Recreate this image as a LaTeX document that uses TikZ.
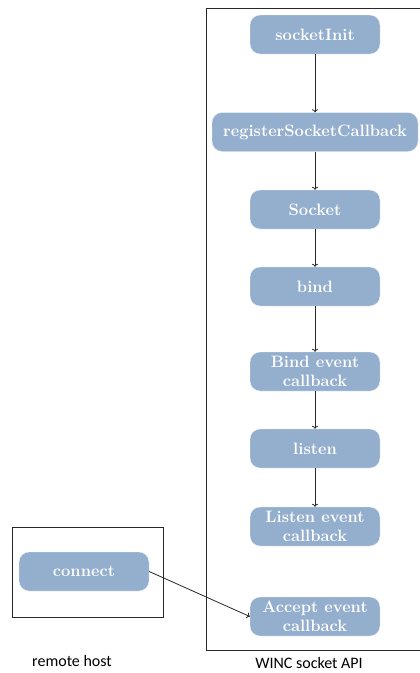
\documentclass[tikz,border=0pt]{standalone}
\usepackage{fontspec}
\newfontfamily\labelfont{Carlito}
\usetikzlibrary{arrows.meta, positioning}
\definecolor{boxblue}{RGB}{148,174,206}
\definecolor{linegray}{RGB}{40,40,40}
\tikzset{
  fnbox/.style={rectangle, rounded corners=10pt, fill=boxblue, draw=white!85!boxblue,
    text=white, font=\fontsize{16.5}{19.5}\selectfont\bfseries, align=center,
    minimum width=130pt, minimum height=39pt, inner sep=1pt},
  flow/.style={draw=linegray, line width=0.8pt, -{To[length=3pt,width=6pt]}},
}
\begin{document}
\begin{tikzpicture}[x=1pt,y=-1pt]
\useasboundingbox (0,0) rectangle (420,673);
% frames
\draw[linegray, line width=0.8pt] (206,8) rectangle (424,650);
\draw[linegray, line width=0.8pt] (12,527) rectangle (163,617);
% WINC side
\node[fnbox] (init) at (315,34.5) {socketInit};
\node[fnbox, minimum width=206pt] (reg) at (315,132) {registerSocketCallback};
\node[fnbox] (sock) at (315,209.5) {Socket};
\node[fnbox] (bind) at (315,286.5) {bind};
\node[fnbox] (bindcb) at (315,371.5) {Bind event\\callback};
\node[fnbox] (listen) at (315,448.5) {listen};
\node[fnbox] (listencb) at (315,526.5) {Listen event\\callback};
\node[fnbox] (acceptcb) at (315,616.5) {Accept event\\callback};
% remote side
\node[fnbox] (conn) at (84,571.5) {connect};
\draw[flow] (init) -- (reg);
\draw[flow] (reg) -- (sock);
\draw[flow] (sock) -- (bind);
\draw[flow] (bind) -- (bindcb);
\draw[flow] (bindcb) -- (listen);
\draw[flow] (listen) -- (listencb);
\draw[flow] (conn.east) -- (acceptcb.west);
% captions
\node[font=\labelfont\fontsize{16}{19}\selectfont] (remote) at (72,661) {remote host};
\node[font=\labelfont\fontsize{16}{19}\selectfont] (winc) at (309,663) {WINC socket API};
\end{tikzpicture}
\end{document}
